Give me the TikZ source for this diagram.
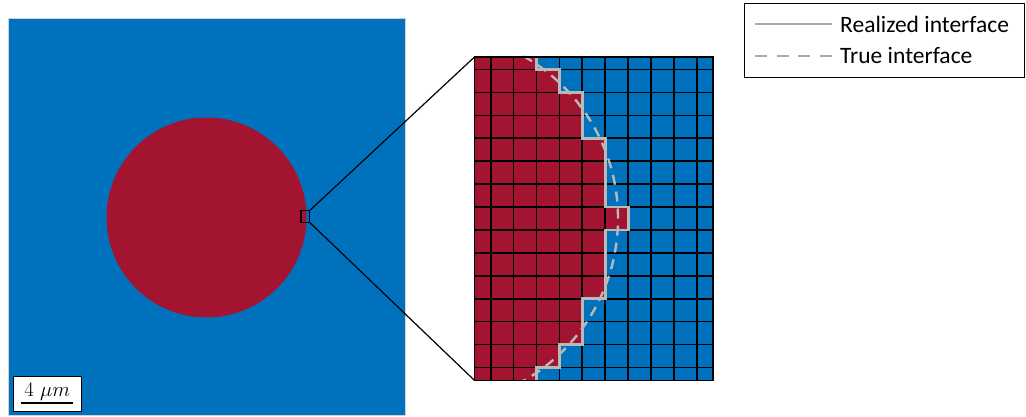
\documentclass[tikz,border=0pt]{standalone}
\usepackage{fontspec}
\newfontfamily\legfont{Carlito}
\definecolor{mblue}{RGB}{0,114,189}
\definecolor{mred}{RGB}{162,20,47}
\definecolor{igray}{RGB}{185,185,185}
\definecolor{lgray}{RGB}{170,170,170}
\tikzset{
  gridline/.style={black, line width=1.7pt},
  realized/.style={igray, line width=2.8pt},
  trueline/.style={igray, line width=2.4pt, dash pattern=on 10pt off 7pt},
  connector/.style={black, line width=1.2pt},
  legtext/.style={anchor=base west, inner sep=0pt, font=\legfont\fontsize{23.5}{28}\selectfont},
}
\begin{document}
\begin{tikzpicture}[x=1pt,y=-1pt]
\useasboundingbox (0,0) rectangle (1026,417);
% left panel
\fill[mblue] (8,18) rectangle (405,415);
\draw[gray!35, line width=0.8pt] (8,18) rectangle (405,415);
\fill[mred] (206.5,217.5) circle[radius=100pt];
\node[draw, line width=1.2pt, minimum width=8.6pt, minimum height=11.6pt, inner sep=0pt] (zbox) at (305.3,216.5) {};
% grid frame node
\node[minimum width=238pt, minimum height=323pt, inner sep=0pt, anchor=north west] (grid) at (474.5,57) {};
\fill[mblue] (474.5,57) rectangle (712.5,380);
\fill[mred] (474.5,57) -- (536.5,57) -- (536.5,69.65) -- (559.4,69.65) -- (559.4,92.55)
  -- (582.3,92.55) -- (582.3,138.35) -- (605.2,138.35) -- (605.2,207.05) -- (628.1,207.05)
  -- (628.1,229.95) -- (605.2,229.95) -- (605.2,298.65) -- (582.3,298.65) -- (582.3,344.45)
  -- (559.4,344.45) -- (559.4,367.35) -- (536.5,367.35) -- (536.5,380) -- (474.5,380) -- cycle;
\foreach \i in {0,...,9} \draw[gridline] ({490.7+22.9*\i},57) -- ({490.7+22.9*\i},380);
\foreach \j in {0,...,13} \draw[gridline] (474.5,{69.65+22.9*\j}) -- (712.5,{69.65+22.9*\j});
\draw[realized] (536.5,57) -- (536.5,69.65) -- (559.4,69.65) -- (559.4,92.55)
  -- (582.3,92.55) -- (582.3,138.35) -- (605.2,138.35) -- (605.2,207.05) -- (628.1,207.05)
  -- (628.1,229.95) -- (605.2,229.95) -- (605.2,298.65) -- (582.3,298.65) -- (582.3,344.45)
  -- (559.4,344.45) -- (559.4,367.35) -- (536.5,367.35) -- (536.5,380);
\begin{scope}
  \clip (474.5,56) rectangle (712.5,380);
  \draw[trueline] (431.3,218.5) circle[radius=186.7pt];
\end{scope}
\draw[black, line width=1.8pt] (grid.north west) rectangle (grid.south east);
% connectors
\draw[connector] (zbox.north east) -- (grid.north west);
\draw[connector] (zbox.south east) -- (grid.south west);
% scale bar
\node[draw, fill=white, line width=1pt, minimum width=67.7pt, minimum height=34.7pt, inner sep=0pt, anchor=north west] (sbar) at (13.3,376) {};
\node[anchor=base, inner sep=0pt, font=\fontsize{20.5}{24}\selectfont] (stext) at (47.2,396.7) {$4~\mu m$};
\coordinate (barL) at (20.7,403.3);
\coordinate (barR) at (73.3,403.3);
\draw[black, line width=2pt] (barL) -- (barR);
% legend
\node[draw, line width=1pt, minimum width=280pt, minimum height=73.7pt, inner sep=0pt, anchor=north west] (leg) at (744,3) {};
\coordinate (s1a) at (755,24);
\coordinate (s1b) at (832,24);
\coordinate (s2a) at (755,56);
\coordinate (s2b) at (832,56);
\draw[lgray, line width=2.6pt] (s1a) -- (s1b);
\draw[lgray, line width=2.6pt, dash pattern=on 12pt off 9.7pt] (s2a) -- (s2b);
\node[legtext] (l1) at (840,33) {Realized interface};
\node[legtext] (l2) at (840,63.7) {True interface};
\end{tikzpicture}
\end{document}
